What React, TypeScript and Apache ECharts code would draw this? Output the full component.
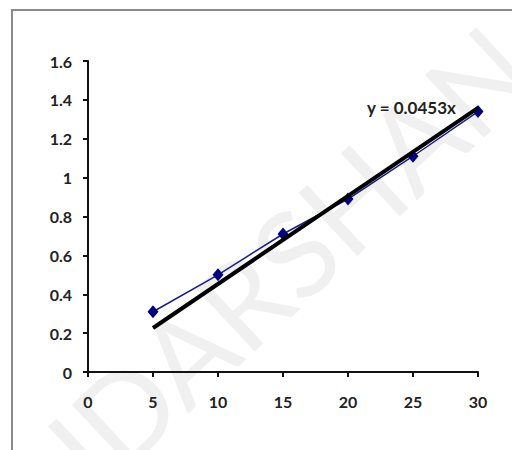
import React, { useEffect, useRef } from "react";
import * as echarts from "echarts";

const xValues = [5, 10, 15, 20, 25, 30];
const yValues = [0.31, 0.5, 0.71, 0.89, 1.11, 1.34];
const trendX = [5, 30];
const trendY = [0.2265, 1.359];
const trendLabel = "y = 0.0453x";
const watermark = "SUDARSHAN";

export default function App() {
  const ref = useRef<HTMLDivElement>(null);
  useEffect(() => {
    if (!ref.current) return;
    const chart = echarts.init(ref.current, null, { renderer: "svg" });
    const font = "Lato, 'Open Sans', sans-serif";
    chart.setOption({
      animation: false,
      backgroundColor: "#ffffff",
      textStyle: { fontFamily: font },
      grid: { left: 88, top: 61, right: 34, bottom: 78 },
      xAxis: {
        type: "value",
        min: 0,
        max: 30,
        interval: 5,
        splitLine: { show: false },
        axisLine: { show: true, onZero: false, lineStyle: { color: "#111", width: 2 } },
        axisTick: { show: true, length: 5, lineStyle: { color: "#111", width: 2 } },
        axisLabel: { color: "#222", fontSize: 16, fontWeight: "bold", margin: 21, fontFamily: font },
      },
      yAxis: {
        type: "value",
        min: 0,
        max: 1.6,
        interval: 0.2,
        splitLine: { show: false },
        axisLine: { show: true, lineStyle: { color: "#111", width: 2 } },
        axisTick: { show: true, length: 5, lineStyle: { color: "#111", width: 2 } },
        axisLabel: { color: "#222", fontSize: 16, fontWeight: "bold", margin: 16, fontFamily: font },
      },
      graphic: [
        {
          type: "text",
          x: -62,
          y: 502,
          rotation: (43 * Math.PI) / 180,
          z: -10,
          silent: true,
          style: {
            text: watermark,
            x: 0,
            y: 0,
            fontSize: 120,
            fontFamily: font,
            textBaseline: "alphabetic",
            fill: "#f0f0f0",
          },
        },
        {
          type: "rect",
          z: -5,
          shape: { x: 12, y: 10, width: 700, height: 700 },
          style: { fill: "none", stroke: "#8a8a8a", lineWidth: 2 },
        },
        {
          type: "text",
          left: 367,
          top: 99,
          z: 10,
          style: { text: trendLabel, fontSize: 17, fontWeight: "bold", fill: "#222", fontFamily: font },
        },
      ],
      series: [
        {
          type: "line",
          data: xValues.map((x, i) => [x, yValues[i]]),
          symbol: "diamond",
          symbolSize: [11, 13],
          showAllSymbol: true,
          lineStyle: { color: "#1a1a8c", width: 1.5 },
          itemStyle: { color: "#000080" },
          z: 2,
        },
        {
          type: "line",
          data: trendX.map((x, i) => [x, trendY[i]]),
          symbol: "none",
          lineStyle: { color: "#000000", width: 4 },
          z: 3,
        },
      ],
    });
    return () => chart.dispose();
  }, []);
  return (
    <div
      ref={ref}
      style={{ position: "fixed", left: 0, top: 0, width: 512, height: 450 }}
    />
  );
}
